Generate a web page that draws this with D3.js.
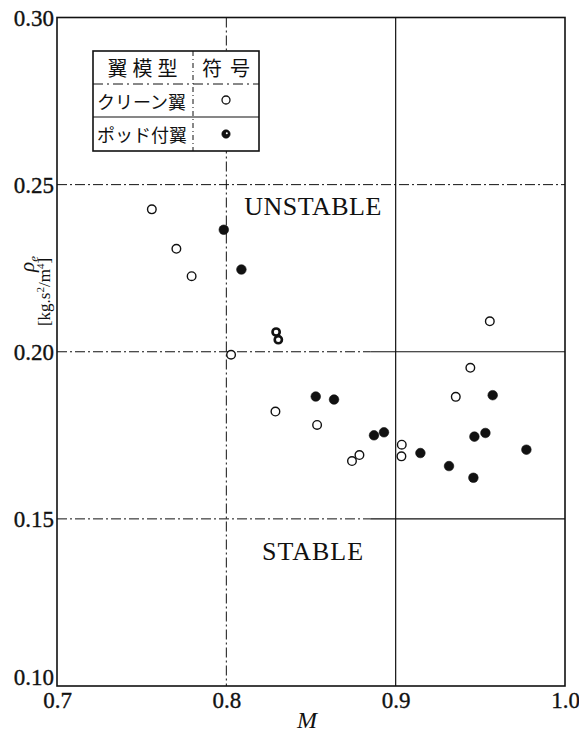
<!DOCTYPE html>
<html>
<head>
<meta charset="utf-8">
<script src="https://cdn.jsdelivr.net/npm/d3@7"></script>
<style>
  html, body { margin: 0; padding: 0; background: #fff; }
  svg { display: block; }
</style>
</head>
<body>
<svg id="chart" width="579" height="733"></svg>
<script>
// Mach number ticks and density-parameter ticks
const xTicks = [0.7, 0.8, 0.9, 1.0];
const yTicks = [0.10, 0.15, 0.20, 0.25, 0.30];

// Clean wing (open circles)
const cleanM   = [0.756, 0.7705, 0.7795, 0.8028, 0.829, 0.8536, 0.8742, 0.8786, 0.9034, 0.9036, 0.9355, 0.9441, 0.9556];
const cleanRho = [0.2426, 0.2308, 0.2226, 0.1991, 0.1821, 0.1781, 0.1673, 0.1691, 0.1687, 0.1722, 0.1865, 0.1952, 0.2091];

// Wing with pod (filled circles)
const podM   = [0.7985, 0.8089, 0.8294, 0.8307, 0.8528, 0.8636, 0.8872, 0.8931, 0.9146, 0.9315, 0.9459, 0.9465, 0.9530, 0.9573, 0.9772];
const podRho = [0.2365, 0.2246, 0.2059, 0.2036, 0.1866, 0.1857, 0.1750, 0.1759, 0.1697, 0.1658, 0.1623, 0.1746, 0.1757, 0.1870, 0.1707];

// Legend rows
const legendHeader = ["翼模型", "符号"];
const legendNames = ["クリーン翼", "ポッド付翼"];

const serif = "'Liberation Serif', 'DejaVu Serif', serif";
const jp = "'Noto Sans CJK JP', sans-serif";

const svg = d3.select("#chart");
const x = d3.scaleLinear().domain([0.7, 1.0]).range([57, 565]);
const y = d3.scaleLinear().domain([0.10, 0.30]).range([686, 17.5]);

const dashDot = "10,3,2,3";

// Grid lines
const grid = svg.append("g").attr("stroke", "#111").attr("fill", "none");
// vertical M = 0.8 (dash-dot), M = 0.9 (solid)
grid.append("line")
  .attr("x1", x(0.8)).attr("x2", x(0.8)).attr("y1", y(0.30)).attr("y2", y(0.10))
  .attr("stroke-width", 1).attr("stroke-dasharray", dashDot);
grid.append("line")
  .attr("x1", x(0.9)).attr("x2", x(0.9)).attr("y1", y(0.30)).attr("y2", y(0.10))
  .attr("stroke-width", 1.2);
// horizontal lines: dash-dot at left, solid toward the right for 0.15 and 0.20
yTicks.filter(v => v > 0.10 && v < 0.30).forEach(v => {
  const split = v === 0.25 ? 1.0 : 0.885;
  grid.append("line")
    .attr("x1", x(0.7)).attr("x2", x(split)).attr("y1", y(v)).attr("y2", y(v))
    .attr("stroke-width", 1).attr("stroke-dasharray", dashDot);
  if (split < 1.0) {
    grid.append("line")
      .attr("x1", x(split)).attr("x2", x(1.0)).attr("y1", y(v)).attr("y2", y(v))
      .attr("stroke-width", 1.2);
  }
});

// Frame
svg.append("rect")
  .attr("x", x(0.7)).attr("y", y(0.30))
  .attr("width", x(1.0) - x(0.7)).attr("height", y(0.10) - y(0.30))
  .attr("fill", "none").attr("stroke", "#111").attr("stroke-width", 1.6);

// Axes (labels only)
const yAxis = svg.append("g")
  .attr("transform", `translate(${x(0.7)},0)`)
  .call(d3.axisLeft(y).tickValues(yTicks).tickSize(0).tickPadding(3).tickFormat(d3.format(".2f")));
yAxis.select(".domain").remove();
yAxis.selectAll("text")
  .style("font-family", serif).style("font-size", "23px")
  .attr("fill", "#111").attr("stroke", "#111").attr("stroke-width", 0.35)
  .attr("dy", d => d === 0.10 ? "-0.08em" : "0.34em");

const xAxis = svg.append("g")
  .attr("transform", `translate(0,${y(0.10)})`)
  .call(d3.axisBottom(x).tickValues(xTicks).tickSize(0).tickPadding(5).tickFormat(d3.format(".1f")));
xAxis.select(".domain").remove();
xAxis.selectAll("text")
  .style("font-family", serif).style("font-size", "23px")
  .attr("fill", "#111").attr("stroke", "#111").attr("stroke-width", 0.35)
  .attr("dy", "0.72em");

// Axis titles
svg.append("text")
  .attr("x", x(0.85) - 4).attr("y", 728)
  .attr("text-anchor", "middle")
  .style("font-family", serif).style("font-style", "italic").style("font-size", "24px")
  .attr("fill", "#111").text("M");

const yl = svg.append("g").attr("fill", "#111").style("font-family", serif);
const rhoT = yl.append("text")
  .attr("transform", "translate(34,264) rotate(-90)")
  .attr("text-anchor", "middle").style("font-size", "21px").style("font-style", "italic");
rhoT.append("tspan").text("ρ");
rhoT.append("tspan").style("font-size", "13px").attr("dy", 4).text("e");
const unitT = yl.append("text")
  .attr("transform", "translate(50,292) rotate(-90)")
  .attr("text-anchor", "middle").style("font-size", "17px");
unitT.append("tspan").text("[kg.s");
unitT.append("tspan").style("font-size", "11px").attr("dy", -6).text("2");
unitT.append("tspan").attr("dy", 6).text("/m");
unitT.append("tspan").style("font-size", "11px").attr("dy", -6).text("4");
unitT.append("tspan").attr("dy", 6).text("]");

// Region labels
svg.append("text").attr("x", 313).attr("y", 215).attr("text-anchor", "middle")
  .style("font-family", serif).style("font-size", "26px").attr("letter-spacing", 0.5)
  .attr("fill", "#111").text("UNSTABLE");
svg.append("text").attr("x", 313).attr("y", 560).attr("text-anchor", "middle")
  .style("font-family", serif).style("font-size", "26px").attr("letter-spacing", 1)
  .attr("fill", "#111").text("STABLE");

// Data points
const clean = cleanM.map((m, i) => ({ m, r: cleanRho[i] }));
const pod = podM.map((m, i) => ({ m, r: podRho[i], i }));
const ringed = new Set([2, 3]);

svg.append("g").selectAll("circle").data(clean).join("circle")
  .attr("cx", d => x(d.m)).attr("cy", d => y(d.r)).attr("r", 4.3)
  .attr("fill", "#fff").attr("stroke", "#111").attr("stroke-width", 1.4);

svg.append("g").selectAll("circle").data(pod).join("circle")
  .attr("cx", d => x(d.m)).attr("cy", d => y(d.r))
  .attr("r", d => ringed.has(d.i) ? 3.6 : 4.8)
  .attr("fill", d => ringed.has(d.i) ? "#fff" : "#111")
  .attr("stroke", "#111")
  .attr("stroke-width", d => ringed.has(d.i) ? 2.6 : 0.6);

// Legend table
const lg = svg.append("g");
const L = { x0: 93, x1: 259, xm: 193, y0: 51, y1: 84, y2: 117, y3: 151 };
lg.append("rect").attr("x", L.x0).attr("y", L.y0)
  .attr("width", L.x1 - L.x0).attr("height", L.y3 - L.y0)
  .attr("fill", "#fff").attr("stroke", "#111").attr("stroke-width", 1.6);
lg.append("line").attr("x1", L.xm).attr("x2", L.xm).attr("y1", L.y0).attr("y2", L.y3)
  .attr("stroke", "#111").attr("stroke-width", 1).attr("stroke-dasharray", "5,3,1,3");
lg.append("line").attr("x1", L.x0).attr("x2", L.x1).attr("y1", L.y1).attr("y2", L.y1)
  .attr("stroke", "#111").attr("stroke-width", 1).attr("stroke-dasharray", "10,4,2,4");
lg.append("line").attr("x1", L.x0).attr("x2", L.x1).attr("y1", L.y2).attr("y2", L.y2)
  .attr("stroke", "#111").attr("stroke-width", 1.2);

lg.append("text").attr("x", (L.x0 + L.xm) / 2 + 2).attr("y", 76).attr("text-anchor", "middle")
  .style("font-family", jp).style("font-size", "20px").attr("letter-spacing", 5).attr("fill", "#111")
  .text(legendHeader[0]);
lg.append("text").attr("x", (L.xm + L.x1) / 2 + 4).attr("y", 76).attr("text-anchor", "middle")
  .style("font-family", jp).style("font-size", "20px").attr("letter-spacing", 8).attr("fill", "#111")
  .text(legendHeader[1]);
legendNames.forEach((name, k) => {
  lg.append("text").attr("x", 97).attr("y", [109, 142][k])
    .style("font-family", jp).style("font-size", "18px").attr("fill", "#111").text(name);
});
const sx = (L.xm + L.x1) / 2;
lg.append("circle").attr("cx", sx).attr("cy", 100).attr("r", 4)
  .attr("fill", "#fff").attr("stroke", "#111").attr("stroke-width", 1.3);
lg.append("circle").attr("cx", sx).attr("cy", 134).attr("r", 4.2)
  .attr("fill", "#111").attr("stroke", "#111").attr("stroke-width", 0.6);
lg.append("circle").attr("cx", sx + 0.8).attr("cy", 133.2).attr("r", 1)
  .attr("fill", "#fff");
</script>
</body>
</html>
